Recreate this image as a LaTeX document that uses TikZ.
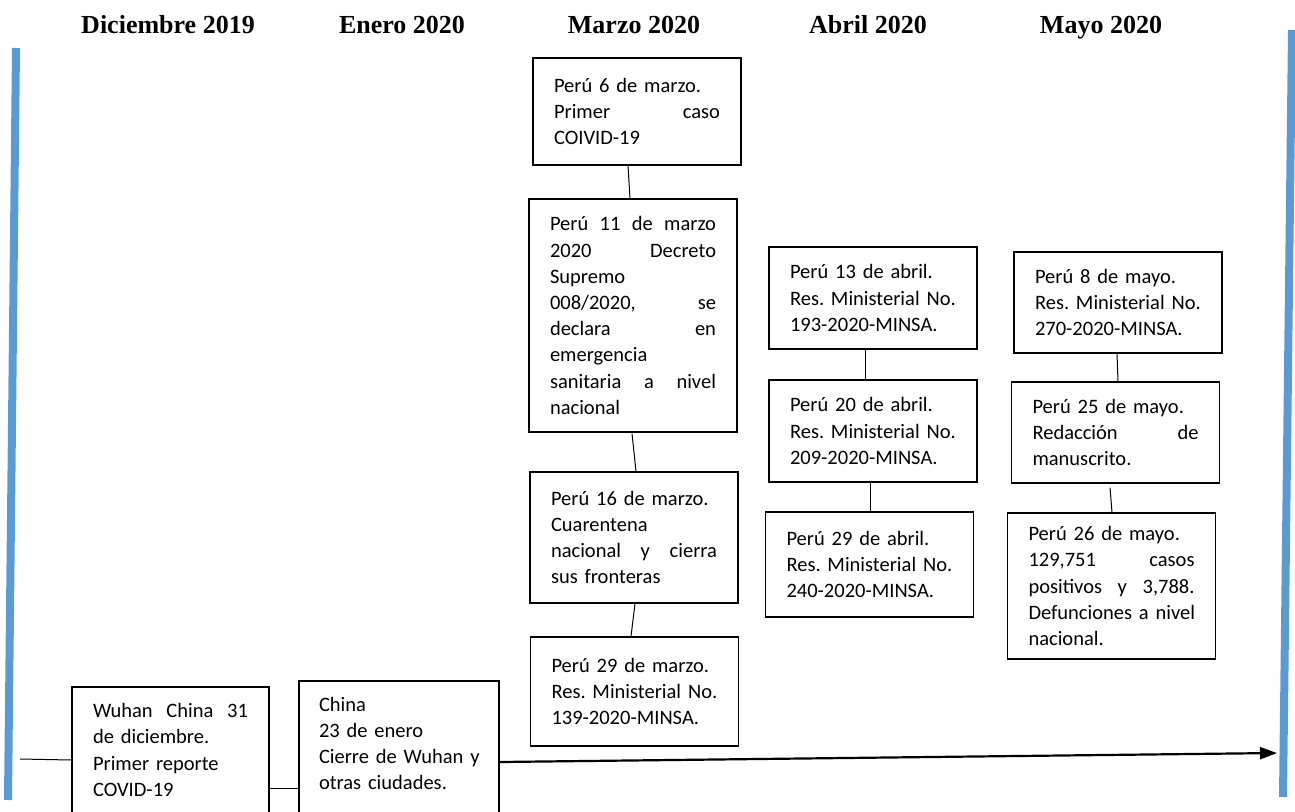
\documentclass[tikz,border=0pt]{standalone}
\usepackage{fontspec}
\setmainfont{Carlito}
\newfontfamily\headfont{Liberation Serif}
\usetikzlibrary{arrows.meta,calc}
\definecolor{timeblue}{HTML}{5B9BD5}
\newcommand{\evtfont}{\fontsize{20.5}{26.2}\selectfont\frenchspacing}
\newcommand{\resmin}{\mbox{Res. Ministerial No.}}
\hbadness=10000
\hfuzz=20pt

\begin{document}
\begin{tikzpicture}[x=1pt,y=-1pt,
    month/.style ={anchor=base, font=\headfont\bfseries\fontsize{26}{30}\selectfont},
    event/.style ={draw, line width=1.2pt, inner xsep=21pt, inner ysep=0pt, text width=166pt, align=left, font=\evtfont},
    link/.style ={line width=1pt},
    border/.style ={timeblue, line width=8pt}]
   \useasboundingbox (0,0) rectangle (1295,811);
   \clip (0,0) rectangle (1295,811);
   \node[month] (dic) at (168,33) {Diciembre 2019};
   \node[month] (ene) at (402,33) {Enero 2020};
   \node[month] (mar) at (634,33) {Marzo 2020};
   \node[month] (abr) at (868,33) {Abril 2020};
   \node[month] (may) at (1101,33) {Mayo 2020};
   \draw[border] (16,48) -- (8,800);
   \draw[border] (1292,30) -- (1283,797);
   \node[event, minimum height=107pt] (m1) at (637,111.5) {Perú 6 de marzo.\\ Primer\hfill caso\\ COIVID-19};
   \node[event, minimum height=233pt] (m2) at (633,315.5) {Perú\hfill 11\hfill de\hfill marzo\\ 2020\hfill Decreto\\ Supremo\\ 008/2020,\hfill se\\ declara\hfill en\\ emergencia\\ sanitaria\hfill a\hfill nivel\\ nacional};
   \node[event, minimum height=131pt] (m3) at (634,537.5) {Perú 16 de marzo.\\ Cuarentena\\ nacional\hfill y\hfill cierra\\ sus fronteras};
   \node[event, minimum height=109pt] (m4) at (634.5,691.5) {Perú 29 de marzo.\\ \resmin\\ 139-2020-MINSA.};
   \node[event, minimum height=102pt] (a1) at (873,298) {Perú 13 de abril.\\ \resmin\\ 193-2020-MINSA.};
   \node[event, minimum height=102pt] (a2) at (873,431) {Perú 20 de abril.\\ \resmin\\ 209-2020-MINSA.};
   \node[event, minimum height=105pt] (a3) at (869.5,564.5) {Perú 29 de abril.\\ \resmin\\ 240-2020-MINSA.};
   \node[event, minimum height=101pt] (b1) at (1118,302.5) {Perú 8 de mayo.\\ \resmin\\ 270-2020-MINSA.};
   \node[event, minimum height=101pt] (b2) at (1115.5,432.5) {Perú 25 de mayo.\\ Redacción\hfill de\\ manuscrito.};
   \node[event, minimum height=146pt] (b3) at (1111.5,586) {Perú 26 de mayo.\\ 129,751\hfill casos\\ positivos\hfill y\hfill 3,788.\\ \mbox{Defunciones a nivel}\\ nacional.};
   \node[event, text width=155pt, minimum height=126pt] (w1) at (170.5,750) {Wuhan\hfill China\hfill 31\\ de diciembre.\\ Primer reporte\\ COVID-19};
   \node[event, text width=160pt, inner xsep=20pt, minimum height=151pt] (c1) at (399,756.5) {China\\ 23 de enero\\ \mbox{Cierre de Wuhan y}\\ otras ciudades.\\ \mbox{}};
   \coordinate (start) at (20,759);
   \coordinate (tip) at (1277,753);
   \draw[link] ($(m1.south)+(-9,0)$) -- ($(m2.north)+(-3,0)$);
   \draw[link] ($(m2.south)+(-1,1)$) -- ($(m3.north)+(2,0)$);
   \draw[link] ($(m3.south)+(1,0)$) -- ($(m4.north)+(-3.5,0)$);
   \draw[link] ($(a1.south)+(-8,0)$) -- ($(a2.north)+(-8,0)$);
   \draw[link] ($(a2.south)+(-3,0)$) -- ($(a3.north)+(0.5,0)$);
   \draw[link] ($(b1.south)+(-1,0)$) -- ($(b2.north)+(2.5,0)$);
   \draw[link] ($(b2.south)+(-5.5,4)$) -- ($(b3.north)+(0.5,0)$);
   \draw[link] (start) -- ($(w1.west)+(0,10)$);
   \draw[link] ($(w1.east)+(0,38)$) -- ($(c1.west)+(0,31.5)$);
   \draw[line width=2.2pt, -{Triangle[length=17pt,width=12pt]}] ($(c1.east)+(0,5.5)$) -- (tip);
\end{tikzpicture}
\end{document}
